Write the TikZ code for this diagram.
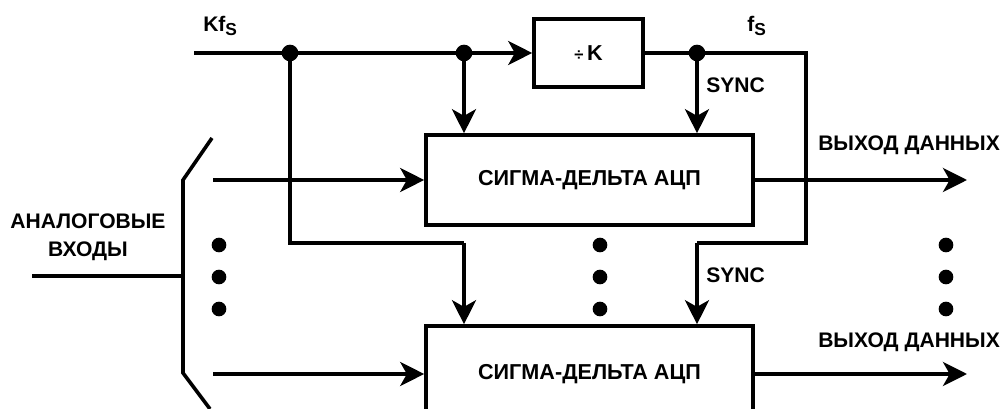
\documentclass[tikz,border=0pt]{standalone}
\usepackage{fontspec}
\setmainfont{Liberation Sans}
\usetikzlibrary{arrows.meta}
\begin{document}
\begin{tikzpicture}[x=0.75pt,y=-0.75pt,
  wire/.style={line width=2.7pt},
  arr/.style={wire,-{Stealth[length=18pt,width=18pt,inset=5pt]}},
  blk/.style={draw,line width=2.7pt,inner sep=0pt,fill=white,font=\bfseries\fontsize{16.2}{18}\selectfont},
  lbl/.style={inner sep=0pt,font=\bfseries\fontsize{15.8}{17}\selectfont},
  jdot/.style={circle,fill=black,inner sep=0pt,minimum size=12.5pt},
  edot/.style={circle,fill=black,inner sep=0pt,minimum size=11pt}]
\useasboundingbox (0,0) rectangle (1004,409);
\clip (0,0) rectangle (1004,409);
% blocks
\node[blk,minimum width=81.75pt,minimum height=51pt] (divk) at (588.5,53) {{\fontsize{12.5}{13}\selectfont ÷}\,K};
\node[blk,minimum width=245.25pt,minimum height=67.5pt] (adc1) at (589.5,180) {СИГМА-ДЕЛЬТА АЦП};
\node[blk,minimum width=245.25pt,minimum height=72pt] (adc2) at (589.5,374) {СИГМА-ДЕЛЬТА АЦП};
% coordinates
\coordinate (kin) at (194,53);
\coordinate (j1) at (290,53);
\coordinate (j2) at (464,53);
\coordinate (j3) at (697,53);
\coordinate (tr) at (806,53);
\coordinate (rb) at (806,243);
\coordinate (rs) at (697,243);
\coordinate (lb) at (290,243);
\coordinate (ls) at (464,243);
\coordinate (in1) at (213,180);
\coordinate (in2) at (213,374);
\coordinate (out1) at (967,180);
\coordinate (out2) at (967,374);
\coordinate (ain) at (32,276);
\coordinate (bm) at (183,276);
\coordinate (b1) at (212,138);
\coordinate (b2) at (183,180);
\coordinate (b3) at (183,373);
\coordinate (b4) at (210,409);
% wires
\draw[arr] (kin) -- (divk.west);
\draw[wire] (divk.east) -- (tr) -- (rb) -- (rs);
\draw[arr] (rs) -- (rs |- adc2.north);
\draw[arr] (j2) -- (j2 |- adc1.north);
\draw[arr] (j3) -- (j3 |- adc1.north);
\draw[wire] (j1) -- (lb) -- (ls);
\draw[arr] (ls) -- (ls |- adc2.north);
\draw[arr] (in1) -- (adc1.west);
\draw[arr] (in2) -- (adc2.west);
\draw[arr] (adc1.east) -- (out1);
\draw[arr] (adc2.east) -- (out2);
\draw[wire] (b1) -- (b2) -- (b3) -- (b4);
\draw[wire] (ain) -- (bm);
% junction dots
\node[jdot] (d1) at (j1) {};
\node[jdot] (d2) at (j2) {};
\node[jdot] (d3) at (j3) {};
% ellipsis dots
\foreach \x/\n in {219/a,600/b,946/c}{
  \node[edot] (e\n1) at (\x,245) {};
  \node[edot] (e\n2) at (\x,277) {};
  \node[edot] (e\n3) at (\x,309) {};
}
% labels
\node[lbl,anchor=base west] (kfs) at (203,32) {Kf\raisebox{-0.35ex}{\fontsize{13}{14}\selectfont S}};
\node[lbl,anchor=base west] (fs) at (747,32) {f\raisebox{-0.35ex}{\fontsize{13}{14}\selectfont S}};
\node[lbl,anchor=west] (sync1) at (706,85) {SYNC};
\node[lbl,anchor=west] (sync2) at (706,275) {SYNC};
\node[lbl,anchor=west] (dout1) at (818,145) {ВЫХОД ДАННЫХ};
\node[lbl,anchor=west] (dout2) at (818,342) {ВЫХОД ДАННЫХ};
\node[lbl,align=center,font=\bfseries\fontsize{15.8}{21}\selectfont] (ain) at (88,237) {АНАЛОГОВЫЕ\\ВХОДЫ};
\end{tikzpicture}
\end{document}
